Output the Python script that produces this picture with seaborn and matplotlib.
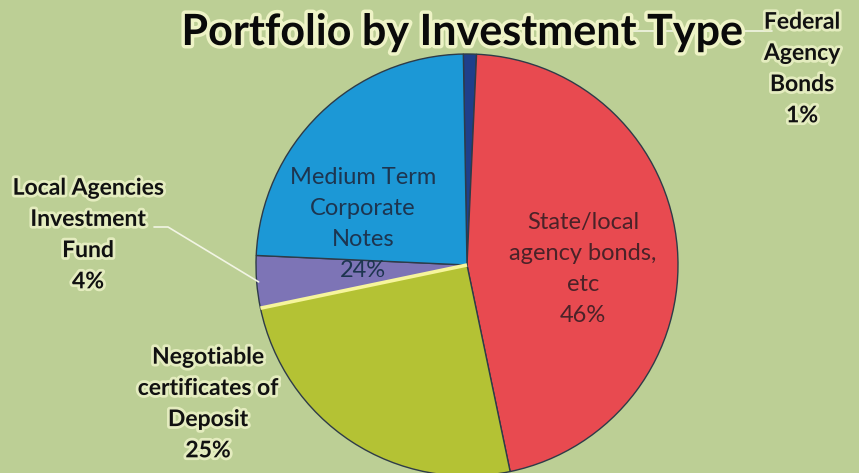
import numpy as np
import matplotlib
matplotlib.use("Agg")
import matplotlib.pyplot as plt
import matplotlib.patheffects as pe
import seaborn as sns

# ---- data ----
categories = ["Federal Agency Bonds", "State/local agency bonds, etc",
              "Negotiable certificates of Deposit", "Local Agencies Investment Fund",
              "Medium Term Corporate Notes"]
values = [1, 46, 25, 4, 24]
label_texts = ["Federal\nAgency\nBonds", "State/local\nagency bonds,\netc",
               "Negotiable\ncertificates of\nDeposit", "Local Agencies\nInvestment\nFund",
               "Medium Term\nCorporate\nNotes"]
colors = ["#1f3f8a", "#e84a50", "#b4c234", "#7d74b6", "#1c98d6"]
title = "Portfolio by Investment Type"

sns.set_theme(style="white")
plt.rcParams['font.family'] = ['Lato', 'DejaVu Sans']

W, H = 859, 473
bg = "#bccf95"
fig = plt.figure(figsize=(W / 100, H / 100), dpi=100, facecolor=bg)
ax = fig.add_axes([0, 0, 1, 1])
ax.set_facecolor(bg)

cx, cy, R = 467, 208, 211
start = 91
wedges, _ = ax.pie(values, colors=colors, startangle=start, counterclock=False,
                   center=(cx, cy), radius=R, frame=True,
                   wedgeprops=dict(edgecolor="#2e3b48", linewidth=1.0))
ax.set_xlim(0, W)
ax.set_ylim(0, H)
ax.set_aspect("equal")
ax.axis("off")

# boundary angles (clockwise)
cum = np.cumsum([0] + values) / sum(values) * 360.0
bounds = start - cum  # degrees
mids = (bounds[:-1] + bounds[1:]) / 2

# yellow highlight along the Negotiable / Local boundary
a = np.deg2rad(bounds[3])
ax.plot([cx, cx + R * np.cos(a)], [cy, cy + R * np.sin(a)], color="#f6f59c", lw=2.6,
        solid_capstyle="butt", zorder=5)

glow = [pe.withStroke(linewidth=4, foreground="#e9f0c4", alpha=0.9)]
pcts = [f"{v}%" for v in values]

# leader lines
ax.plot([620, 772], [H - 31, H - 31], color="#f2f5e4", lw=1.2, zorder=3)
ang = np.deg2rad(mids[3])
ax.plot([154, 168, cx + R * np.cos(ang) + 2], [H - 227, H - 227, cy + R * np.sin(ang)],
        color="#f2f5e4", lw=1.2, zorder=3)

fo = 16.5
fi = 17
ls = 1.6
# outside labels (bold, glow)
ax.text(802, H - 69, label_texts[0] + "\n" + pcts[0], ha="center", va="center", fontsize=fo,
        fontweight="bold", color="#111111", linespacing=ls, path_effects=glow, zorder=6)
ax.text(88, H - 235, label_texts[3] + "\n" + pcts[3], ha="center", va="center", fontsize=fo,
        fontweight="bold", color="#111111", linespacing=ls, path_effects=glow, zorder=6)
ax.text(208, H - 404, label_texts[2] + "\n" + pcts[2], ha="center", va="center", fontsize=fo,
        fontweight="bold", color="#111111", linespacing=ls, path_effects=glow, zorder=6)
# inside labels
ax.text(363, H - 224, label_texts[4] + "\n" + pcts[4], ha="center", va="center", fontsize=fi,
        color="#1d3550", linespacing=ls, zorder=6)
ax.text(583, H - 269, label_texts[1] + "\n" + pcts[1], ha="center", va="center", fontsize=fi,
        color="#4a2228", linespacing=ls, zorder=6)

ax.text(462, H - 32, title, ha="center", va="center", fontsize=31, fontweight="bold",
        color="#0a0a0a", path_effects=[pe.withStroke(linewidth=5, foreground="#eef3c6")], zorder=7)

fig.savefig("out.png", dpi=100, facecolor=bg)
